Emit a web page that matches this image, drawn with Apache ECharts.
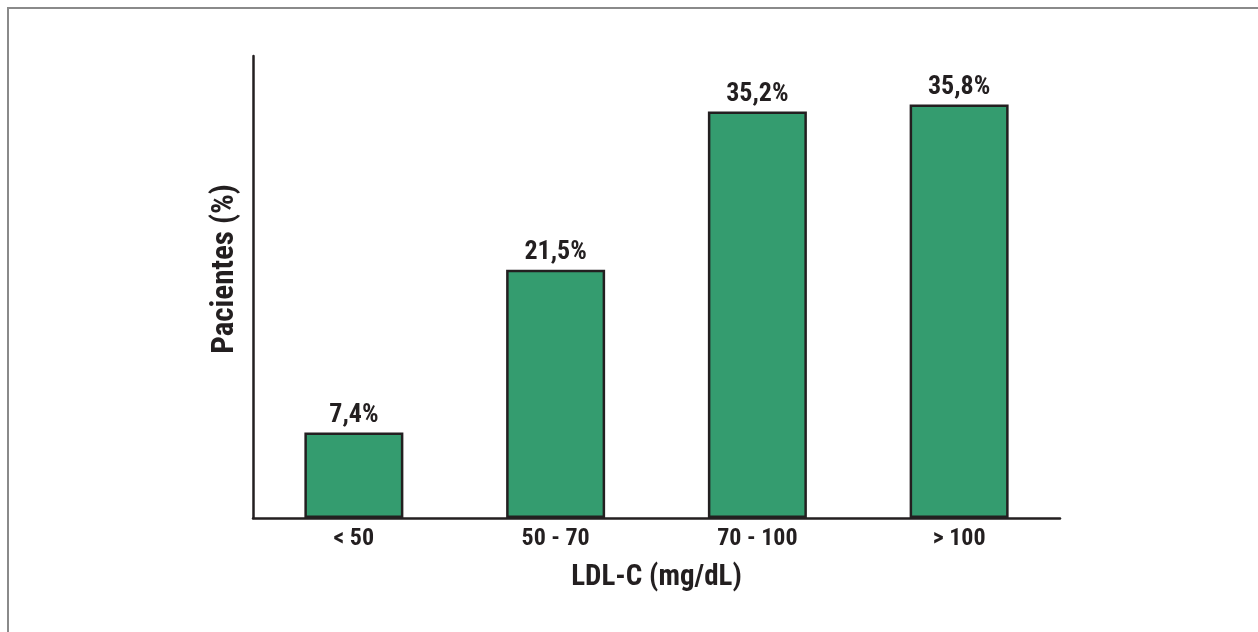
<!DOCTYPE html>
<html>
<head>
<meta charset="utf-8">
<script src="https://cdn.jsdelivr.net/npm/echarts@6/dist/echarts.min.js"></script>
<style>
html,body{margin:0;padding:0;background:#fff;}
#c{width:1258px;height:632px;}
</style>
</head>
<body>
<div id="c"></div>
<script>
const categories = ['< 50', '50 - 70', '70 - 100', '> 100'];
const values = [7.4, 21.5, 35.2, 35.8];
const valueLabels = ['7,4%', '21,5%', '35,2%', '35,8%'];

const FONT = "'Liberation Sans Narrow', 'Roboto Condensed', 'Liberation Sans', sans-serif";
const DARK = '#231f20';

const chart = echarts.init(document.getElementById('c'));
chart.setOption({
  animation: false,
  backgroundColor: '#fff',
  grid: { left: 253, top: 56, right: 198, bottom: 114, containLabel: false },
  xAxis: {
    type: 'category',
    data: categories,
    name: 'LDL-C (mg/dL)',
    nameLocation: 'middle',
    nameGap: 45,
    nameTextStyle: { fontFamily: FONT, fontWeight: 'bold', fontSize: 29, color: DARK },
    axisLine: { lineStyle: { color: DARK, width: 2.5 } },
    axisTick: { show: false },
    axisLabel: { fontFamily: FONT, fontWeight: 'bold', fontSize: 24, color: DARK, margin: 9 }
  },
  yAxis: {
    type: 'value',
    min: 0,
    max: 40,
    axisLine: { show: true, lineStyle: { color: DARK, width: 2.5 } },
    axisTick: { show: false },
    axisLabel: { show: false },
    splitLine: { show: false }
  },
  graphic: [
    { type: 'line', shape: { x1: 8, y1: 8, x2: 1258, y2: 8 }, style: { stroke: '#8a8a8a', lineWidth: 2 } },
    { type: 'line', shape: { x1: 8, y1: 7, x2: 8, y2: 632 }, style: { stroke: '#8a8a8a', lineWidth: 2 } },
    { type: 'text', x: 225, y: 269, rotation: Math.PI / 2,
      style: { text: 'Pacientes (%)', fontFamily: FONT, fontWeight: 'bold', fontSize: 31, fill: DARK,
               textAlign: 'center', textVerticalAlign: 'middle' } }
  ],
  series: [{
    type: 'bar',
    data: values,
    barWidth: 99,
    itemStyle: { color: '#349c6f', borderColor: DARK, borderWidth: 2.5 },
    label: {
      show: true,
      position: 'top',
      distance: 4,
      formatter: p => valueLabels[p.dataIndex],
      fontFamily: FONT, fontWeight: 'bold', fontSize: 26, color: DARK
    }
  }]
});
</script>
</body>
</html>
